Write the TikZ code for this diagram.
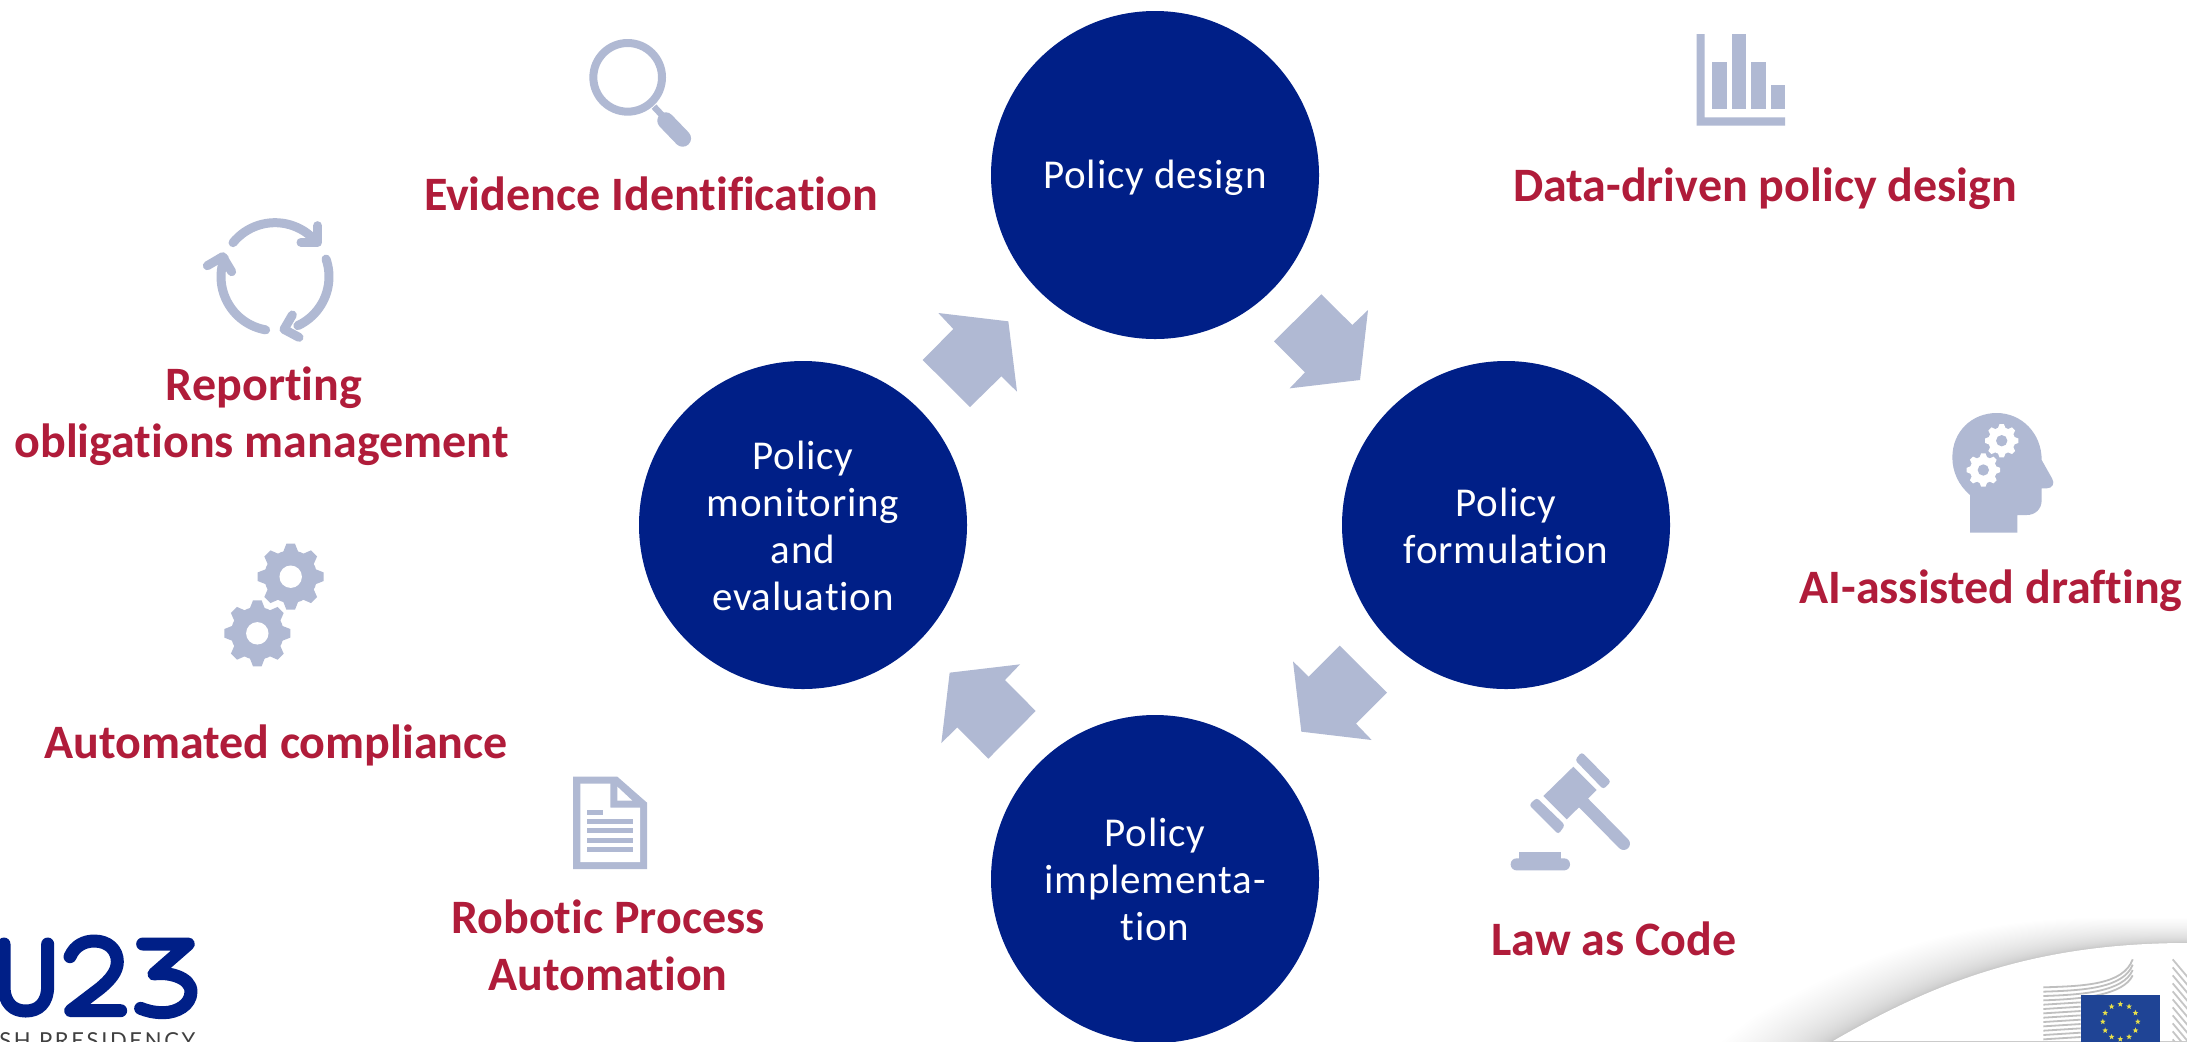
\documentclass[tikz,border=0pt]{standalone}
\usepackage{fontspec}
\setmainfont[Ligatures=NoCommon]{Carlito}
\newfontfamily\spaced[LetterSpace=2,Ligatures=NoCommon]{Carlito}
\newfontfamily\logofont[LetterSpace=12]{Lato}
\usetikzlibrary{shapes.geometric}
\definecolor{navy}{HTML}{001F87}
\definecolor{pale}{HTML}{B0B9D3}
\definecolor{wine}{HTML}{B01C3A}
\definecolor{flagblue}{HTML}{1F4495}
\definecolor{stargold}{HTML}{E8E04A}
\tikzset{
  stage/.style={circle,fill=navy,text=white,minimum size=164pt,inner sep=0pt,align=center,font=\spaced\fontsize{20.5}{23.5}\selectfont},
  lab/.style={text=wine,anchor=base,inner sep=0pt,font=\bfseries\fontsize{24}{28}\selectfont},
  blockarrow/.style={fill=pale},
  iconline/.style={draw=pale,line cap=round,line join=round},
  zoomed/.style={shift={(#1)},scale=1/3}
}
\newcommand{\cogwheel}[5]{%
  \begin{scope}[shift={(#1,#2)}]
    \fill[#4] (0,0) circle ({.80*#3});
    \foreach \a in {0,45,...,315}{
      \fill[#4,rotate=\a] ({-.24*#3},{.72*#3}) -- ({-.13*#3},{1.0*#3}) -- ({.13*#3},{1.0*#3}) -- ({.24*#3},{.72*#3}) -- cycle;
    }
    \fill[#5] (0,0) circle ({.34*#3});
  \end{scope}}
\begin{document}
\begin{tikzpicture}[x=0.5pt,y=-0.5pt]
\useasboundingbox (0,0) rectangle (2187,1041);
\clip (0,0) rectangle (2187,1041);
\fill[white] (0,0) rectangle (2187,1041);

% swoosh
\foreach \i in {60,59,...,1}{
  \fill[black,opacity=.0052,shift={(-1.3*\i*\i/60,-.42*\i*\i/60)}]
    (1833,1041) .. controls (1930,985) and (2030,943) .. (2187,943) -- (2500,943) -- (2500,1300) -- (1500,1300) -- cycle;
}
\fill[white] (1833,1041) .. controls (1930,985) and (2030,943) .. (2187,943) -- (2187,1041) -- cycle;

% building
\begin{scope}[zoomed={1700,900}]
  \foreach \i in {0,...,3}{
    \draw[gray!50,line width=.9pt] (1030,{262+13*\i}) .. controls (1150,{258+13*\i}) and (1270,{255+10*\i}) .. (1298,{178+16*\i});
  }
  \foreach \i in {4,...,12}{
    \draw[gray!50,line width=.9pt] (1030,{262+13*\i}) -- (1142,{255+13*\i});
  }
  \foreach \i in {0,...,10}{
    \draw[gray!45,line width=.9pt] (1418,{178+24*\i}) -- (1470,{240+24*\i});
  }
  \fill[flagblue] (1142,285) rectangle (1380,441);
\end{scope}
\foreach \k in {0,...,11}{
  \node[star,star points=5,star point ratio=2.4,fill=stargold,inner sep=0pt,minimum size=3pt] (st\k) at ({2120.3+17.5*cos(30*\k)},{1021.7+17.5*sin(30*\k)}) {};
}

% stages
\node[stage] (design) at (1155,175) {\rule{0pt}{17.5pt}Policy design};
\node[stage] (formul) at (1506,525) {\rule{0pt}{15.5pt}Policy\\formulation};
\node[stage] (implem) at (1155,879) {Policy\\implementa-\\tion};
\node[stage] (monit) at (803,525) {\rule{0pt}{15.5pt}Policy\\monitoring\\and\\evaluation};

% block arrows
\begin{scope}[zoomed={900,280}]
  \fill[blockarrow] (1264,43)--(1357,135)--(1404,90)--(1380,300)--(1169,325)--(1215,277)--(1122,184)--cycle;
  \fill[blockarrow] (115,99)--(325,124)--(351,335)--(304,289)--(210,381)--(68,240)--(160,147)--cycle;
  \fill[blockarrow] (1319,1097)--(1461,1238)--(1368,1331)--(1415,1380)--(1204,1355)--(1179,1144)--(1226,1190)--cycle;
  \fill[blockarrow] (360,1153)--(315,1200)--(407,1293)--(265,1436)--(172,1342)--(124,1389)--(149,1178)--cycle;
\end{scope}

% labels
\node[lab] (evid) at (651,210) {Evidence Identification};
\node[lab] (data) at (1765,201) {Data-driven policy design};
\node[lab] (rep1) at (264,400) {Reporting};
\node[lab] (rep2) at (261.5,457) {obligations management};
\node[lab] (ai) at (1991,603) {AI-assisted drafting};
\node[lab] (auto) at (276,758) {Automated compliance};
\node[lab] (rpa1) at (608,933) {Robotic Process};
\node[lab] (rpa2) at (608,990) {Automation};
\node[lab] (law) at (1614,955) {Law as Code};

% magnifier
\begin{scope}[zoomed={580,30}]
  \draw[pale,line width=4pt] (143,142) circle (103);
  \draw[pale,line width=3.2pt] (222,230) -- (252,262);
  \draw[iconline,line width=8.4pt] (257,272) -- (308,325);
\end{scope}

% cycle
\begin{scope}[zoomed={190,200}]
  \draw[iconline,line width=4.5pt] plot[domain=141:45,samples=24] ({255+162*cos(\x)},{230-162*sin(\x)});
  \draw[iconline,line width=4.5pt] (383,77) -- (383,127) -- (333,127);
  \draw[iconline,line width=4.5pt] plot[domain=19:-65,samples=24] ({255+162*cos(\x)},{230-162*sin(\x)});
  \draw[iconline,line width=4.5pt] (307,345) -- (282,388) -- (327,412);
  \draw[iconline,line width=4.5pt] plot[domain=-100:-200,samples=24] ({255+162*cos(\x)},{230-162*sin(\x)});
  \draw[iconline,line width=4.5pt] (52,197) -- (98,170) -- (125,215);
\end{scope}

% gears
\cogwheel{290.7}{576.7}{33}{pale}{white}
\cogwheel{257.3}{633.3}{33}{pale}{white}

% document
\begin{scope}[zoomed={200,520}]
  \fill[pale] (1119,770)--(1252,770)--(1341,848)--(1341,1047)--(1119,1047)--cycle;
  \fill[white] (1141,791)--(1231,791)--(1231,863)--(1320,863)--(1320,1026)--(1141,1026)--cycle;
  \fill[white] (1252,800)--(1297,842)--(1252,842)--cycle;
  \fill[pale] (1161,870) rectangle (1209,885);
  \fill[pale] (1161,897) rectangle (1299,912);
  \fill[pale] (1161,925) rectangle (1299,940);
  \fill[pale] (1161,953) rectangle (1299,968);
  \fill[pale] (1161,981) rectangle (1299,996);
\end{scope}

% bar chart
\begin{scope}[zoomed={1660,10}]
  \fill[pale] (110,72)--(134,72)--(134,322)--(375,322)--(375,347)--(110,347)--cycle;
  \fill[pale] (157,157) rectangle (200,298);
  \fill[pale] (216,72) rectangle (259,298);
  \fill[pale] (274,157) rectangle (317,298);
  \fill[pale] (333,226) rectangle (375,298);
\end{scope}

% head
\begin{scope}[zoomed={1900,400}]
  \fill[pale] (210,398) -- (210,285) .. controls (175,255) and (157,215) .. (157,172)
    .. controls (157,95) and (215,39) .. (290,39)
    .. controls (365,39) and (425,100) .. (425,180)
    -- (456,235) .. controls (465,250) and (458,265) .. (440,265) -- (425,265) -- (425,300)
    .. controls (425,328) and (405,345) .. (380,345) -- (352,345) -- (352,398) -- cycle;
\end{scope}
\cogwheel{2001.7}{440.7}{16.7}{white}{pale}
\cogwheel{1983.3}{470}{16.7}{white}{pale}

% gavel
\begin{scope}[zoomed={1480,730}]
  \fill[pale] (280,110)--(350,180)--(260,268)--(190,198)--cycle;
  \draw[iconline,line width=6.3pt] (300,208) -- (431,341);
  \fill[pale,rounded corners=1.5pt] (305,66)--(393,155)--(370,178)--(285,90)--cycle;
  \fill[pale,rounded corners=1.5pt] (147,225)--(170,203)--(255,285)--(235,313)--cycle;
  \fill[pale] (118,367) rectangle (243,390);
  \fill[pale,rounded corners=2.9pt] (92,385) rectangle (270,421);
\end{scope}

% EU23 logo
\begin{scope}[zoomed={0,880}]
  \draw[navy,line width=6.5pt,line cap=round,line join=round]
    (143,192) -- (143,318) .. controls (143,370) and (115,393) .. (77,393) .. controls (40,393) and (12,370) .. (12,318) -- (12,192);
  \draw[navy,line width=6.5pt,line cap=round,line join=round]
    (210,230) .. controls (225,195) and (255,183) .. (283,183) .. controls (325,183) and (352,210) .. (352,245) .. controls (352,275) and (330,300) .. (300,325) -- (212,392) -- (362,392);
  \draw[navy,line width=6.5pt,line cap=round,line join=round]
    (428,192) -- (565,192) -- (462,282) .. controls (500,275) and (573,290) .. (573,335) .. controls (573,375) and (530,398) .. (490,398) .. controls (460,398) and (440,392) .. (422,385);
\end{scope}
\node[anchor=base west,inner sep=0pt,text=black!75,font=\logofont\fontsize{11}{13}\selectfont] (pres) at (-1,1048) {SH PRESIDENCY};
\end{tikzpicture}
\end{document}
